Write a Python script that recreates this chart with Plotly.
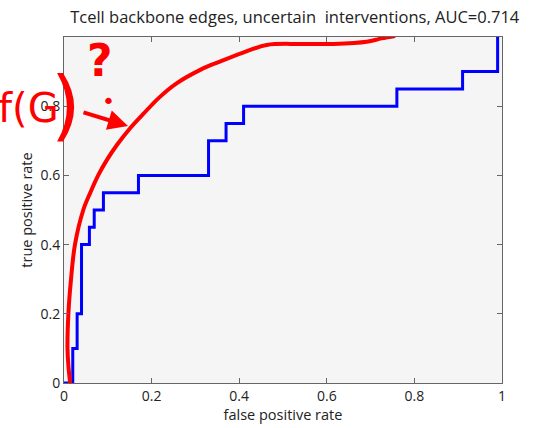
import plotly.graph_objects as go

# Blue ROC step curve (false positive rate, true positive rate), drawn with hv steps
fpr_steps = [0, 0.02, 0.03, 0.04, 0.058, 0.069, 0.09, 0.17, 0.33, 0.37, 0.41, 0.76, 0.91, 0.99]
tpr_steps = [0, 0.10, 0.20, 0.40, 0.45, 0.50, 0.55, 0.60, 0.70, 0.75, 0.80, 0.85, 0.90, 1.00]

# Red hand-drawn curve
red_x = [0.014, 0.010, 0.008, 0.010, 0.016, 0.025, 0.044, 0.060, 0.078, 0.098, 0.122, 0.150,
         0.182, 0.219, 0.257, 0.311, 0.356, 0.409, 0.463, 0.539, 0.615, 0.691, 0.725, 0.756]
red_y = [0.000, 0.050, 0.100, 0.200, 0.300, 0.400, 0.500, 0.550, 0.600, 0.645, 0.690, 0.735,
         0.779, 0.827, 0.866, 0.905, 0.929, 0.955, 0.977, 0.980, 0.980, 0.986, 0.996, 1.003]

x_ticks = [0, 0.2, 0.4, 0.6, 0.8, 1]
x_tick_labels = ["0", "0.2", "0.4", "0.6", "0.8", "1"]
y_ticks = [0, 0.2, 0.4, 0.6, 0.8, 1]
y_tick_labels = ["0", "0.2", "0.4", "0.6", "0.8", ""]

title_text = "Tcell backbone edges, uncertain  interventions, AUC=0.714"

W, H = 533, 428
L, R, T, B = 64, 31, 37, 45


def px(xp, yp):
    return (xp - L) / (W - L - R), (H - B - yp) / (H - T - B)


fig = go.Figure()
fig.add_trace(go.Scatter(x=fpr_steps, y=tpr_steps, mode="lines", line_shape="hv",
                         line=dict(color="#0000ff", width=3), showlegend=False))
fig.add_trace(go.Scatter(x=red_x, y=red_y, mode="lines", line_shape="spline",
                         line=dict(color="#ff0000", width=4), cliponaxis=False, showlegend=False))

font = "Open Sans, DejaVu Sans, sans-serif"
axis_common = dict(
    showgrid=False, zeroline=False, showline=True, linecolor="#666666", linewidth=1,
    mirror="ticks", ticks="inside", ticklen=5, tickcolor="#666666", automargin=False,
    tickfont=dict(family=font, size=14, color="#222222"),
)
fig.update_xaxes(range=[0, 1], tickvals=x_ticks, ticktext=x_tick_labels,
                 title=dict(text="false positive rate", font=dict(family=font, size=14.5, color="#222222"), standoff=0),
                 **axis_common)
fig.update_yaxes(range=[0, 1], tickvals=y_ticks, ticktext=y_tick_labels,
                 title=dict(text="true positive rate", font=dict(family=font, size=14.5, color="#222222"), standoff=4),
                 **axis_common)

red = "#ff0000"
annotations = []
# handwritten marks
qx, qy = px(100, 61)
annotations.append(dict(x=qx, y=qy, xref="paper", yref="paper", text="<b>?</b>", showarrow=False,
                        xanchor="center", yanchor="middle",
                        font=dict(family="DejaVu Sans", size=44, color=red)))
gx, gy = px(61, 108)
annotations.append(dict(x=gx, y=gy, xref="paper", yref="paper", text="f(G", showarrow=False,
                        xanchor="right", yanchor="middle",
                        font=dict(family="DejaVu Sans", size=40, color=red)))
px2, py2 = px(66, 104)
annotations.append(dict(x=px2, y=py2, xref="paper", yref="paper", text=")", showarrow=False,
                        xanchor="center", yanchor="middle",
                        font=dict(family="DejaVu Sans", size=76, color=red)))
dx, dy = px(108, 101)
annotations.append(dict(x=dx, y=dy, xref="paper", yref="paper", text="•", showarrow=False,
                        xanchor="center", yanchor="middle",
                        font=dict(family="DejaVu Sans", size=22, color=red)))
hx, hy = px(128, 126)
annotations.append(dict(x=hx, y=hy, xref="paper", yref="paper", text="", showarrow=True,
                        ax=-46, ay=-14, arrowhead=2, arrowsize=1, arrowwidth=4, arrowcolor=red))

fig.update_layout(
    width=W, height=H,
    margin=dict(l=L, r=R, t=T, b=B),
    paper_bgcolor="white", plot_bgcolor="#f5f5f5",
    title=dict(text=title_text, x=0.553, xanchor="center", y=1 - 17 / H, yanchor="middle",
               font=dict(family=font, size=16.5, color="#222222")),
    annotations=annotations,
)

fig.write_html("out.html", config={"displayModeBar": False},
               post_script="document.body.style.margin='0';")
